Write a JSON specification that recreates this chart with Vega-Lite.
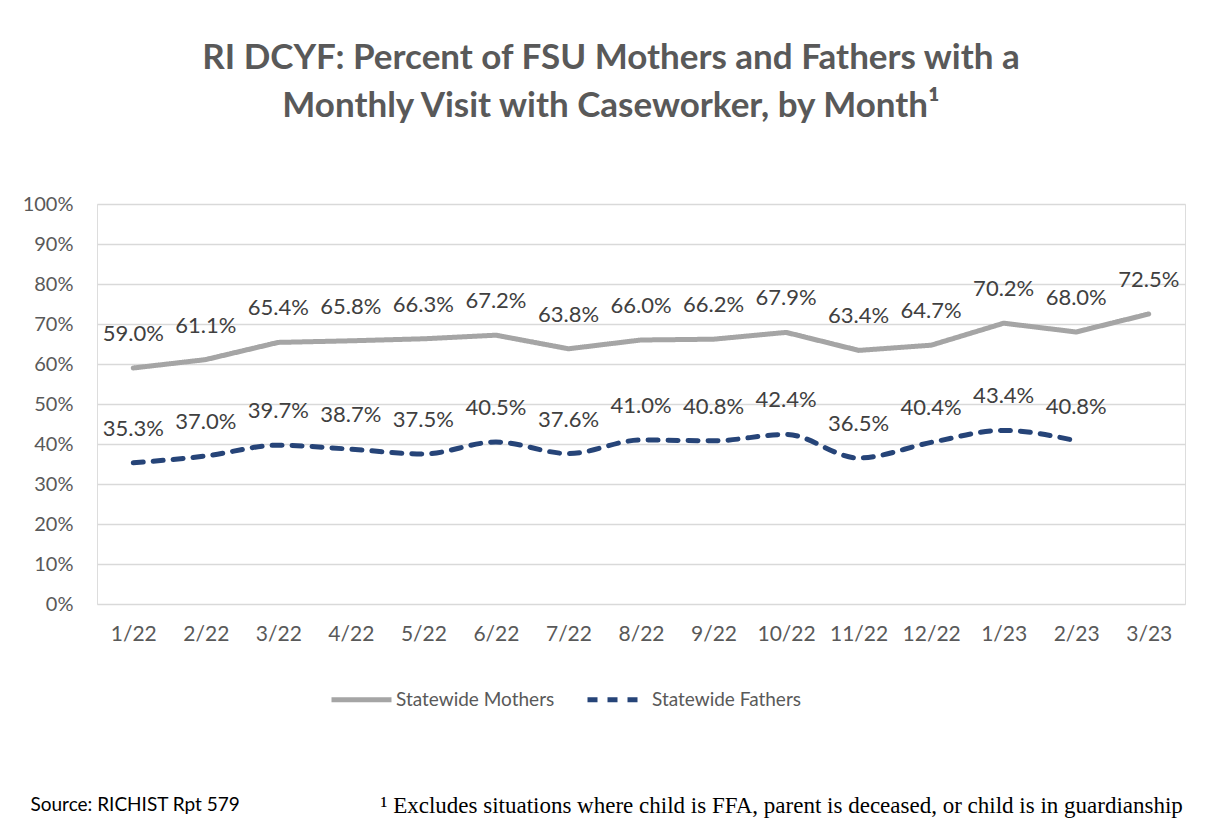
{
  "$schema": "https://vega.github.io/schema/vega-lite/v6.json",
  "width": 1088,
  "height": 400,
  "autosize": {"type": "none"},
  "padding": {"left": 97, "top": 204, "right": 20, "bottom": 219},
  "background": "white",
  "title": {
    "text": ["RI DCYF: Percent of FSU Mothers and Fathers with a", "Monthly Visit with Caseworker, by Month¹"],
    "font": "Lato",
    "fontSize": 35,
    "fontWeight": "bold",
    "color": "#595959",
    "lineHeight": 48,
    "anchor": "middle",
    "frame": "group",
    "dx": -30,
    "offset": 70
  },
  "data": {
    "values": [
      {"month": "1/22", "series": "Statewide Mothers", "value": 0.590},
      {"month": "2/22", "series": "Statewide Mothers", "value": 0.611},
      {"month": "3/22", "series": "Statewide Mothers", "value": 0.654},
      {"month": "4/22", "series": "Statewide Mothers", "value": 0.658},
      {"month": "5/22", "series": "Statewide Mothers", "value": 0.663},
      {"month": "6/22", "series": "Statewide Mothers", "value": 0.672},
      {"month": "7/22", "series": "Statewide Mothers", "value": 0.638},
      {"month": "8/22", "series": "Statewide Mothers", "value": 0.660},
      {"month": "9/22", "series": "Statewide Mothers", "value": 0.662},
      {"month": "10/22", "series": "Statewide Mothers", "value": 0.679},
      {"month": "11/22", "series": "Statewide Mothers", "value": 0.634},
      {"month": "12/22", "series": "Statewide Mothers", "value": 0.647},
      {"month": "1/23", "series": "Statewide Mothers", "value": 0.702},
      {"month": "2/23", "series": "Statewide Mothers", "value": 0.680},
      {"month": "3/23", "series": "Statewide Mothers", "value": 0.725},
      {"month": "1/22", "series": "Statewide Fathers", "value": 0.353},
      {"month": "2/22", "series": "Statewide Fathers", "value": 0.370},
      {"month": "3/22", "series": "Statewide Fathers", "value": 0.397},
      {"month": "4/22", "series": "Statewide Fathers", "value": 0.387},
      {"month": "5/22", "series": "Statewide Fathers", "value": 0.375},
      {"month": "6/22", "series": "Statewide Fathers", "value": 0.405},
      {"month": "7/22", "series": "Statewide Fathers", "value": 0.376},
      {"month": "8/22", "series": "Statewide Fathers", "value": 0.410},
      {"month": "9/22", "series": "Statewide Fathers", "value": 0.408},
      {"month": "10/22", "series": "Statewide Fathers", "value": 0.424},
      {"month": "11/22", "series": "Statewide Fathers", "value": 0.365},
      {"month": "12/22", "series": "Statewide Fathers", "value": 0.404},
      {"month": "1/23", "series": "Statewide Fathers", "value": 0.434},
      {"month": "2/23", "series": "Statewide Fathers", "value": 0.408}
    ]
  },
  "encoding": {
    "x": {
      "field": "month",
      "type": "ordinal",
      "sort": null,
      "scale": {"type": "point", "padding": 0.5},
      "axis": {
        "title": "Source: RICHIST Rpt 579",
        "titleFont": "Lato",
        "titleFontSize": 19,
        "titleFontWeight": "normal",
        "titleColor": "#000000",
        "titleAnchor": "start",
        "titleAlign": "left",
        "titleBaseline": "alphabetic",
        "titleX": -67,
        "titleY": 206,
        "labelAngle": 0,
        "labelFont": "Lato",
        "labelFontSize": 21,
        "labelColor": "#595959",
        "labelPadding": 19,
        "domain": false,
        "ticks": false,
        "grid": false
      }
    },
    "y": {
      "field": "value",
      "type": "quantitative",
      "scale": {"domain": [0, 1]},
      "axis": {
        "values": [0, 0.1, 0.2, 0.3, 0.4, 0.5, 0.6, 0.7, 0.8, 0.9, 1],
        "format": ".0%",
        "title": "¹ Excludes situations where child is FFA, parent is deceased, or child is in guardianship",
        "titleFont": "Liberation Serif",
        "titleFontSize": 23,
        "titleFontWeight": "normal",
        "titleColor": "#000000",
        "titleAngle": 0,
        "titleAlign": "left",
        "titleBaseline": "alphabetic",
        "titleX": 283,
        "titleY": 608,
        "labelFont": "Lato",
        "labelFontSize": 20,
        "labelColor": "#595959",
        "labelPadding": 24,
        "domain": false,
        "ticks": false,
        "grid": true,
        "gridColor": "#D9D9D9",
        "gridWidth": 1.5
      }
    },
    "color": {
      "field": "series",
      "type": "nominal",
      "scale": {"domain": ["Statewide Mothers", "Statewide Fathers"], "range": ["#A5A5A5", "#264478"]},
      "legend": null
    }
  },
  "layer": [
    {
      "transform": [{"filter": "datum.series === 'Statewide Mothers'"}],
      "mark": {"type": "line", "strokeWidth": 5, "strokeCap": "round", "strokeJoin": "round"},
      "encoding": {
        "color": {
          "field": "series",
          "type": "nominal",
          "scale": {"domain": ["Statewide Mothers", "Statewide Fathers"], "range": ["#A5A5A5", "#264478"]},
          "legend": {
            "orient": "none",
            "legendX": 232,
            "legendY": 463,
            "direction": "horizontal",
            "title": null,
            "symbolType": "stroke",
            "symbolSize": 3600,
            "symbolStrokeWidth": 5,
            "labelFont": "Lato",
            "labelFontSize": 19,
            "labelLimit": 400,
            "labelColor": "#595959",
            "labelOffset": 2,
            "columnPadding": 22,
            "padding": 0
          }
        },
        "strokeDash": {
          "field": "series",
          "type": "nominal",
          "scale": {"domain": ["Statewide Mothers", "Statewide Fathers"], "range": [[1, 0], [10, 10]]},
          "legend": {
            "orient": "none",
            "legendX": 232,
            "legendY": 463,
            "direction": "horizontal",
            "title": null,
            "symbolType": "stroke",
            "symbolSize": 3600,
            "symbolStrokeWidth": 5,
            "labelFont": "Lato",
            "labelFontSize": 19,
            "labelLimit": 400,
            "labelColor": "#595959",
            "labelOffset": 2,
            "columnPadding": 22,
            "padding": 0
          }
        }
      }
    },
    {
      "transform": [{"filter": "datum.series === 'Statewide Fathers'"}],
      "mark": {"type": "line", "strokeWidth": 5, "strokeCap": "round", "interpolate": "monotone"},
      "encoding": {
        "strokeDash": {
          "field": "series",
          "type": "nominal",
          "scale": {"domain": ["Statewide Mothers", "Statewide Fathers"], "range": [[1, 0], [10, 10]]},
          "legend": null
        }
      }
    },
    {
      "mark": {"type": "text", "dy": -34, "baseline": "middle", "font": "Lato", "fontSize": 22, "color": "#404040"},
      "encoding": {
        "text": {"field": "value", "type": "quantitative", "format": ".1%"},
        "color": {"value": "#404040"}
      }
    }
  ]
}
